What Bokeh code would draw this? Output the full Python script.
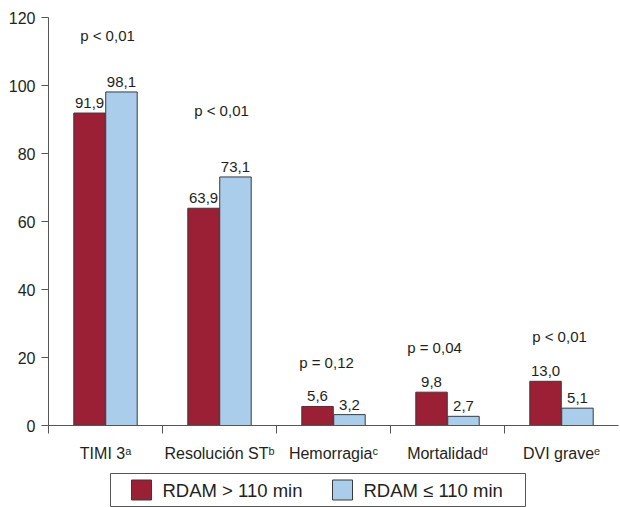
import numpy as np
from bokeh.plotting import figure
from bokeh.layouts import column
from bokeh.models import FixedTicker, Range1d, ColumnDataSource
from bokeh.core.properties import value
from bokeh.embed import file_html
from bokeh.resources import INLINE

# ---- data ----
categories = ["TIMI 3\u1d43", "Resoluci\u00f3n ST\u1d47", "Hemorragia\u1d9c",
              "Mortalidad\u1d48", "DVI grave\u1d49"]
rdam_gt_110 = [91.9, 63.9, 5.6, 9.8, 13.0]
rdam_le_110 = [98.1, 73.1, 3.2, 2.7, 5.1]
p_values = ["p < 0,01", "p < 0,01", "p = 0,12", "p = 0,04", "p < 0,01"]
series_names = ["RDAM > 110 min", "RDAM \u2264 110 min"]
y_ticks = [0, 20, 40, 60, 80, 100, 120]

# ---- layout constants (not data) ----
p_label_y = [114.7, 92.6, 18.5, 22.9, 26.2]
p_label_dx = [2, 2, -7, -13, -2]
bar_w = 0.276
offset = 0.14
FONT = "Liberation Sans"
TXT = "#231f20"
RED = "#9b2036"
BLUE = "#aacdeb"
EDGE = "#3a3a3a"
AX = "#555555"
# legend strip geometry (page pixels horizontally, strip pixels vertically)
LG_BOX = (110, 525, 8, 41)          # left, right, top, bottom
LG_SWATCH_X = [131, 332]
LG_SWATCH = 20
LG_STANDOFF = 11

idx = np.arange(len(categories))
centers = idx + 0.5

def fmt(v):
    return f"{v:.1f}".replace(".", ",")

p = figure(width=620, height=465, output_backend="svg", toolbar_location=None,
           x_range=Range1d(0, len(categories)), y_range=Range1d(0, 120),
           min_border_left=48, min_border_right=2, min_border_top=17,
           min_border_bottom=40)
p.outline_line_color = None
p.xgrid.grid_line_color = None
p.ygrid.grid_line_color = None

src_r = ColumnDataSource(dict(x=centers - offset, top=rdam_gt_110,
                              lab=[fmt(v) for v in rdam_gt_110]))
src_b = ColumnDataSource(dict(x=centers + offset, top=rdam_le_110,
                              lab=[fmt(v) for v in rdam_le_110]))

p.vbar(x="x", top="top", width=bar_w, source=src_r, fill_color=RED,
       line_color=EDGE, line_width=1)
p.vbar(x="x", top="top", width=bar_w, source=src_b, fill_color=BLUE,
       line_color=EDGE, line_width=1)

for src in (src_r, src_b):
    p.text(x="x", y="top", text="lab", source=src, text_align="center",
           text_baseline="bottom", y_offset=-5, text_font=value(FONT),
           text_font_size="15px", text_color=TXT)

src_p = ColumnDataSource(dict(x=centers, y=p_label_y, t=p_values, dx=p_label_dx))
p.text(x="x", y="y", text="t", source=src_p, x_offset="dx", text_align="center",
       text_baseline="middle", text_font=value(FONT), text_font_size="15px",
       text_color=TXT)

# y axis
p.yaxis.ticker = FixedTicker(ticks=y_ticks)
p.yaxis.major_tick_out = 7
p.yaxis.major_tick_in = 0
p.yaxis.minor_tick_line_color = None
p.yaxis.axis_line_color = AX
p.yaxis.major_tick_line_color = AX
p.yaxis.major_label_text_font = FONT
p.yaxis.major_label_text_font_size = "16px"
p.yaxis.major_label_text_color = TXT
p.yaxis.major_label_standoff = 6

# x axis: labels at centers, tick marks at category boundaries
p.xaxis.ticker = FixedTicker(ticks=list(centers), minor_ticks=list(idx))
p.xaxis.major_label_overrides = {float(c): cat for c, cat in zip(centers, categories)}
p.xaxis.major_tick_line_color = None
p.xaxis.major_tick_out = 0
p.xaxis.major_tick_in = 0
p.xaxis.minor_tick_out = 8
p.xaxis.minor_tick_in = 0
p.xaxis.minor_tick_line_color = AX
p.xaxis.axis_line_color = AX
p.xaxis.major_label_text_font = FONT
p.xaxis.major_label_text_font_size = "16px"
p.xaxis.major_label_text_color = TXT
p.xaxis.major_label_standoff = 11

# legend strip below the chart; its frame spans page x 48..618 like the chart's
lg = figure(width=620, height=42, output_backend="svg", toolbar_location=None,
            x_axis_type=None, y_axis_type=None,
            min_border_left=48, min_border_right=2, min_border_top=0,
            min_border_bottom=0, x_range=Range1d(48, 618), y_range=Range1d(42, 0))
lg.outline_line_color = None
lg.xgrid.grid_line_color = None
lg.ygrid.grid_line_color = None

l, r, t, b = LG_BOX
lg.quad(left=[l], right=[r], top=[t], bottom=[b], fill_color=None,
        line_color=AX, line_width=1)
mid = (t + b) / 2
sw = ColumnDataSource(dict(
    left=LG_SWATCH_X,
    right=[x + LG_SWATCH for x in LG_SWATCH_X],
    top=[mid - LG_SWATCH / 2] * 2,
    bottom=[mid + LG_SWATCH / 2] * 2,
    color=[RED, BLUE],
    tx=[x + LG_SWATCH + LG_STANDOFF for x in LG_SWATCH_X],
    ty=[mid] * 2,
    label=series_names))
lg.quad(left="left", right="right", top="top", bottom="bottom", source=sw,
        fill_color="color", line_color=EDGE, line_width=1)
lg.text(x="tx", y="ty", text="label", source=sw, text_align="left",
        text_baseline="middle", text_font=value(FONT), text_font_size="18.5px",
        text_color=TXT)

layout = column(p, lg, spacing=0)
open("out.html", "w").write(file_html(layout, INLINE))
